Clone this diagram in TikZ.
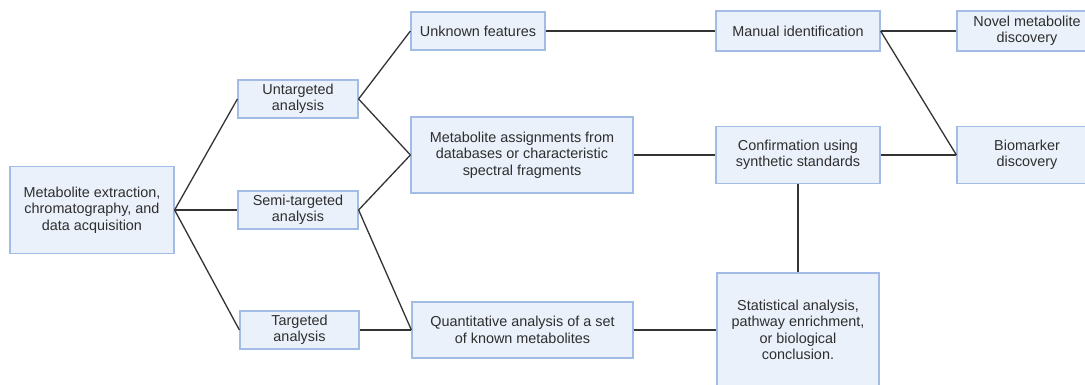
\documentclass[tikz,border=0pt]{standalone}
\usepackage{fontspec}
\setmainfont{Liberation Sans}
\definecolor{boxfill}{HTML}{EAF1FB}
\definecolor{boxedge}{HTML}{A3BCE6}
\definecolor{inkgray}{HTML}{2E2E2E}
\definecolor{linegray}{HTML}{333333}
\begin{document}
\begin{tikzpicture}[x=1pt,y=-1pt,
  box/.style={draw=boxedge, fill=boxfill, line width=1.2pt, inner sep=0pt,
    align=center, text=inkgray, font=\fontsize{14.4}{16.5}\selectfont},
  link/.style={draw=linegray, line width=1.3pt}]
\useasboundingbox (0,0) rectangle (1085,385);
\clip (0,0) rectangle (1085,385);
% first column
\node[box, minimum width=164pt, minimum height=87pt] (acq) at (92,210)
  {Metabolite extraction,\\chromatography, and\\data acquisition};
% analysis modes
\node[box, minimum width=120pt, minimum height=38pt] (untar) at (298,99) {Untargeted\\analysis};
\node[box, minimum width=120pt, minimum height=38pt] (semi) at (298,210) {Semi-targeted\\analysis};
\node[box, minimum width=119pt, minimum height=38pt] (tar) at (299.5,330) {Targeted\\analysis};
% intermediate results
\node[box, minimum width=134pt, minimum height=38pt] (unk) at (478,31) {Unknown features};
\node[box, minimum width=222pt, minimum height=76pt] (assign) at (522,155)
  {Metabolite assignments from\\databases or characteristic\\spectral fragments};
\node[box, minimum width=221pt, minimum height=56pt] (quant) at (522.5,330)
  {Quantitative analysis of a set\\of known metabolites};
% follow-up steps
\node[box, minimum width=164pt, minimum height=40pt] (manual) at (798,31) {Manual identification};
\node[box, minimum width=164pt, minimum height=57pt] (confirm) at (798,155)
  {Confirmation using\\synthetic standards};
\node[box, minimum width=162pt, minimum height=114pt] (stat) at (798,330)
  {Statistical analysis,\\pathway enrichment,\\or biological\\conclusion.};
% outcomes
\node[box, minimum width=140pt, minimum height=40pt] (novel) at (1027,31)
  {Novel metabolite\\discovery};
\node[box, minimum width=140pt, minimum height=57pt] (bio) at (1027,155)
  {Biomarker\\discovery};
% connectors
\draw[link] (acq.east) -- (untar.west);
\draw[link] (acq.east) -- (semi.west);
\draw[link] (acq.east) -- (tar.west);
\draw[link] (untar.east) -- (unk.west);
\draw[link] (untar.east) -- (assign.west);
\draw[link] (semi.east) -- (assign.west);
\draw[link] (semi.east) -- (quant.west);
\draw[link] (tar.east) -- (quant.west);
\draw[link] (unk.east) -- (manual.west);
\draw[link] (assign.east) -- (confirm.west);
\draw[link] (quant.east) -- (stat.west);
\draw[link] (confirm.south) -- (stat.north);
\draw[link] (manual.east) -- (novel.west);
\draw[link] (manual.east) -- (bio.west);
\draw[link] (confirm.east) -- (bio.west);
\end{tikzpicture}
\end{document}
